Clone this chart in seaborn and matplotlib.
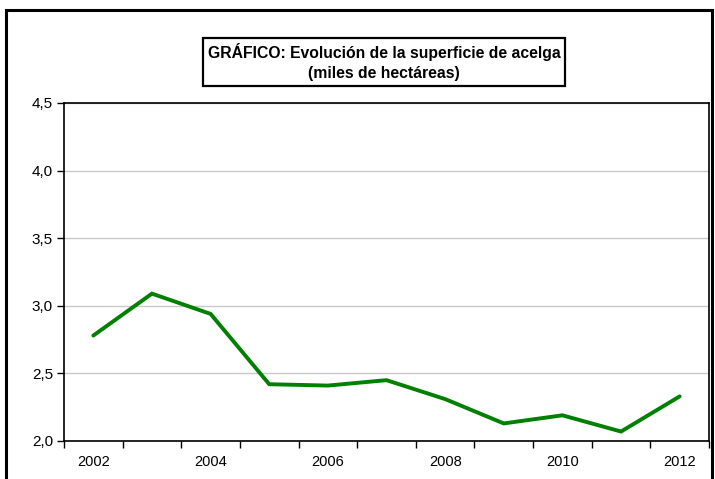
import matplotlib
matplotlib.use("Agg")
import matplotlib.pyplot as plt
import matplotlib.patches as mpatches
from matplotlib.ticker import FixedLocator, FuncFormatter
import seaborn as sns
import pandas as pd

years = [2002, 2003, 2004, 2005, 2006, 2007, 2008, 2009, 2010, 2011, 2012]
superficie = [2.78, 3.09, 2.94, 2.42, 2.41, 2.45, 2.31, 2.13, 2.19, 2.07, 2.33]
year_labels = ["2002", "2004", "2006", "2008", "2010", "2012"]
y_ticks = [2.0, 2.5, 3.0, 3.5, 4.0, 4.5]

sns.set_theme(style="white")
plt.rcParams["font.family"] = ["Liberation Sans", "DejaVu Sans"]
plt.rcParams["text.color"] = "black"

df = pd.DataFrame({"year": years, "superficie": superficie})

fig = plt.figure(figsize=(7.15, 4.79), dpi=100)
ax = fig.add_axes([64 / 715, 38 / 479, 645 / 715, 338 / 479])

sns.lineplot(data=df, x="year", y="superficie", ax=ax, color="#008000",
             linewidth=2.8, solid_joinstyle="miter")

ax.set_xlim(years[0] - 0.5, years[-1] + 0.5)
ax.set_ylim(y_ticks[0], y_ticks[-1])

# category boundaries carry the tick marks, labels sit on the category centres
ax.xaxis.set_major_locator(FixedLocator([y - 0.5 for y in years] + [years[-1] + 0.5]))
ax.xaxis.set_major_formatter(FuncFormatter(lambda v, p: ""))
ax.set_xticks([int(s) for s in year_labels], labels=year_labels, minor=True)
ax.tick_params(axis="x", which="major", direction="out", length=5, width=1,
               color="black", bottom=True)
ax.tick_params(axis="x", which="minor", length=0, pad=10, labelsize=10.5,
               labelcolor="black")

ax.set_yticks(y_ticks)
ax.set_yticklabels([f"{v:.1f}".replace(".", ",") for v in y_ticks])
ax.tick_params(axis="y", direction="out", length=5, width=1, color="black",
               left=True, labelsize=11, labelcolor="black", pad=3)

ax.grid(axis="y", color="#c8c8c8", linewidth=1)
ax.grid(axis="x", visible=False)
for side in ["left", "right", "top", "bottom"]:
    ax.spines[side].set_visible(True)
    ax.spines[side].set_color("black")
    ax.spines[side].set_linewidth(1.2)

ax.set_xlabel("")
ax.set_ylabel("")

# outer frame of the chart area
frame = mpatches.Rectangle((6 / 715, -0.05), 706 / 715, 1.05 - 10 / 479,
                           transform=fig.transFigure, fill=False,
                           edgecolor="black", linewidth=2.2, clip_on=False)
fig.patches.append(frame)

fig.text(384 / 715, 1 - 62 / 479,
         "GRÁFICO: Evolución de la superficie de acelga\n(miles de hectáreas)",
         ha="center", va="center", fontsize=11.3, fontweight="bold",
         color="black", linespacing=1.4,
         bbox=dict(boxstyle="square,pad=0.3", facecolor="white",
                   edgecolor="black", linewidth=1.6))

fig.savefig("out.png", dpi=100, facecolor="white")
